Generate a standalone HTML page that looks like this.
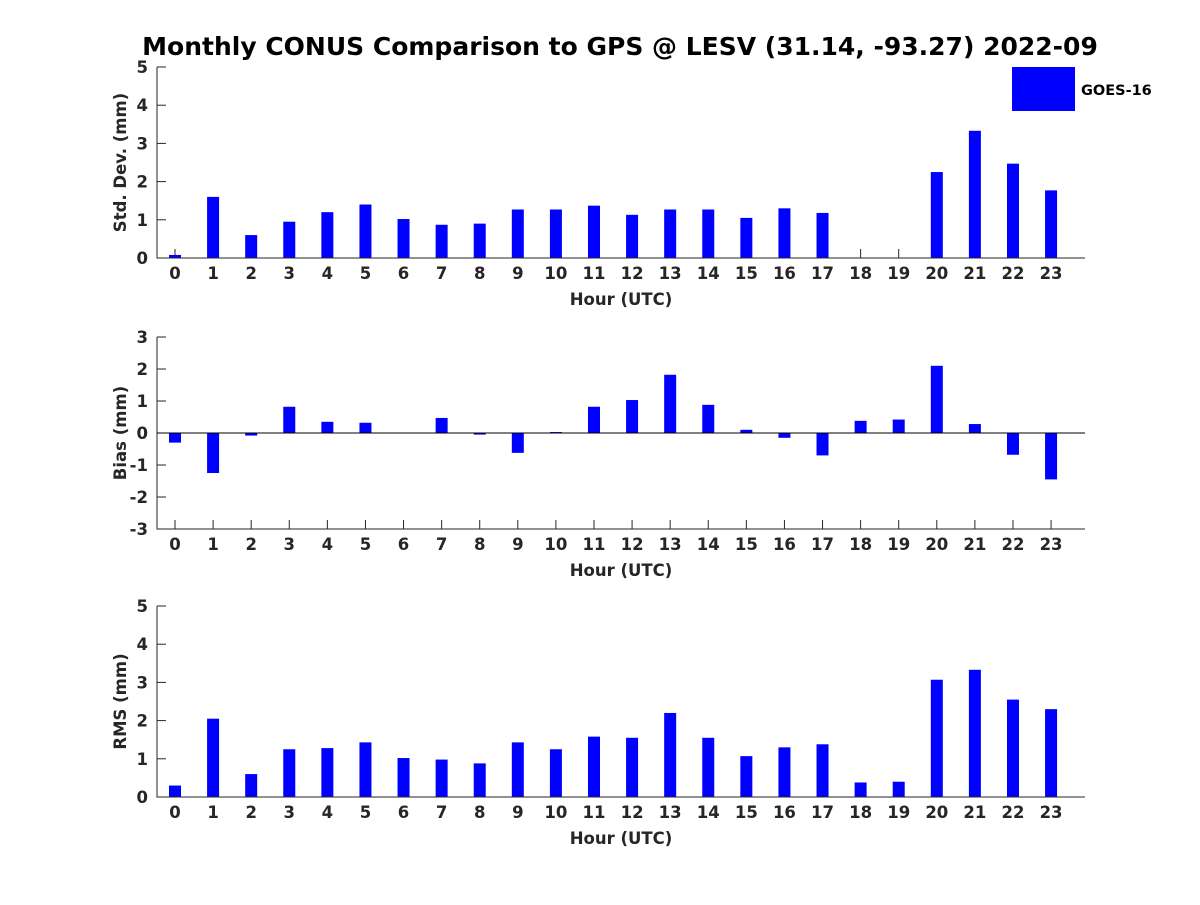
<!DOCTYPE html>
<html><head><meta charset="utf-8"><style>
body{margin:0;background:#fff}
svg text{font-family:"DejaVu Sans","Liberation Sans",sans-serif;font-weight:bold;fill:#262626}
</style></head><body>
<svg id="chart" width="1200" height="900" xmlns="http://www.w3.org/2000/svg">
<text x="620" y="55" font-size="25" text-anchor="middle" style="fill:#000">Monthly CONUS Comparison to GPS @ LESV (31.14, -93.27) 2022-09</text>
<g>
<rect x="1012" y="67" width="63" height="44" fill="#0000ff"></rect>
<text x="1081" y="95" font-size="14.5" style="fill:#000">GOES-16</text>
</g>
</svg>
<script>
const hours=[0,1,2,3,4,5,6,7,8,9,10,11,12,13,14,15,16,17,18,19,20,21,22,23];
const stdValues=[0.08,1.6,0.6,0.95,1.2,1.4,1.02,0.87,0.9,1.27,1.27,1.37,1.13,1.27,1.27,1.05,1.3,1.18,0,0,2.25,3.33,2.47,1.77];
const biasValues=[-0.3,-1.25,-0.08,0.82,0.35,0.32,0,0.47,-0.05,-0.62,0.03,0.82,1.03,1.82,0.88,0.1,-0.15,-0.7,0.38,0.42,2.1,0.28,-0.68,-1.45];
const rmsValues=[0.3,2.05,0.6,1.25,1.28,1.43,1.02,0.98,0.88,1.43,1.25,1.58,1.55,2.2,1.55,1.07,1.3,1.38,0.38,0.4,3.07,3.33,2.55,2.3];
const stdTicks=[0,1,2,3,4,5];
const biasTicks=[-3,-2,-1,0,1,2,3];
const rmsTicks=[0,1,2,3,4,5];
const NS='http://www.w3.org/2000/svg';
const svg=document.getElementById('chart');
function mk(tag,attrs){const e=document.createElementNS(NS,tag);for(const k in attrs)e.setAttribute(k,attrs[k]);svg.appendChild(e);return e;}
const xl=157,xr=1085;
const FS=16.5;
function xs(h){return 175+h*38.09;}
function panel(name,top,bot,ymin,ymax,ticks,vals,ylabel,zeroLine){
  const ys=v=>bot-(v-ymin)/(ymax-ymin)*(bot-top);
  hours.forEach(h=>{
    mk('line',{x1:xs(h),x2:xs(h),y1:bot,y2:bot-9,stroke:'#262626'});
  });
  ticks.forEach(v=>{
    mk('line',{x1:xl,x2:xl+9,y1:ys(v),y2:ys(v),stroke:'#262626'});
  });
  vals.forEach((v,i)=>{
    const y0=ys(0),y1=ys(v);
    const r=mk('rect',{x:xs(hours[i])-6,y:Math.min(y0,y1),width:12,height:Math.abs(y1-y0),fill:'#0000ff'});
    
    
  });
  const ax=mk('path',{d:`M${xl},${top}V${bot}H${xr}`,stroke:'#262626','stroke-width':1,fill:'none'});
  
  
  if(zeroLine){const z=mk('line',{x1:xl,x2:xr,y1:ys(0),y2:ys(0),stroke:'#000'});
    
    }
  hours.forEach(h=>{
    const t=mk('text',{x:xs(h),y:bot+21,'font-size':FS,'text-anchor':'middle'});t.textContent=h;
    
    
  });
  ticks.forEach(v=>{
    const t=mk('text',{x:xl-9,y:ys(v)+6,'font-size':FS,'text-anchor':'end'});t.textContent=v;
    
    
  });
  const xt=mk('text',{x:621,y:bot+47,'font-size':FS,'text-anchor':'middle'});xt.textContent='Hour (UTC)';
  
  
  const cy=(top+bot)/2;
  const yt=mk('text',{x:0,y:0,'font-size':FS,'text-anchor':'middle',transform:`translate(126,${cy}) rotate(-90)`});yt.textContent=ylabel;
  
  
}
panel('std-dev',67,258,0,5,stdTicks,stdValues,'Std. Dev. (mm)',false);
panel('bias',337,529,-3,3,biasTicks,biasValues,'Bias (mm)',true);
panel('rms',606,797,0,5,rmsTicks,rmsValues,'RMS (mm)',false);
</script>
</body></html>
